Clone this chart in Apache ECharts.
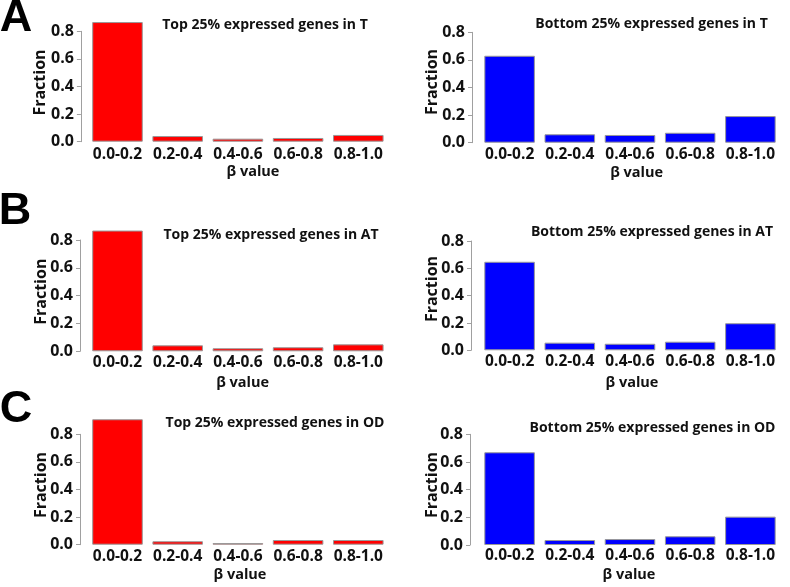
<!DOCTYPE html>
<html><head><meta charset="utf-8">
<script src="https://cdn.jsdelivr.net/npm/echarts@6/dist/echarts.min.js"></script>
<style>html,body{margin:0;padding:0;background:#fff}#c{width:790px;height:587px}</style>
</head><body><div id="c"></div>
<script>
// ---- data ----
const categories = ['0.0-0.2', '0.2-0.4', '0.4-0.6', '0.6-0.8', '0.8-1.0'];
const yTicks = [0.0, 0.2, 0.4, 0.6, 0.8];
const topT  = [0.867, 0.041, 0.022, 0.027, 0.049];
const botT  = [0.630, 0.061, 0.056, 0.072, 0.193];
const topAT = [0.868, 0.043, 0.022, 0.029, 0.050];
const botAT = [0.648, 0.056, 0.048, 0.063, 0.198];
const topOD = [0.909, 0.025, 0.012, 0.034, 0.034];
const botOD = [0.670, 0.036, 0.043, 0.063, 0.205];
const titles = [
  'Top 25% expressed genes in T', 'Bottom 25% expressed genes in T',
  'Top 25% expressed genes in AT', 'Bottom 25% expressed genes in AT',
  'Top 25% expressed genes in OD', 'Bottom 25% expressed genes in OD'
];
const letters = ['A', 'B', 'C'];
const xName = 'β value';
const yName = 'Fraction';

// ---- layout ----
const RED = '#ff0000', BLUE = '#0000ff';
const FONT = '"Open Sans", Lato, "Liberation Sans", sans-serif';
const panels = [
  {data: topT,  color: RED,  grid: {left: 87.4,  top: 31.3,  width: 301, height: 110.4}, off: 6.5, lm: 5, t: [265, 25],   f: [40, 82.5],  b: [253, 172]},
  {data: botT,  color: BLUE, grid: {left: 479.5, top: 32.3,  width: 301, height: 110.4}, off: 7.5, lm: 4, t: [651.5, 24], f: [432, 82],   b: [636.7, 173]},
  {data: topAT, color: RED,  grid: {left: 87.4,  top: 240,   width: 301, height: 111.3}, off: 7.4, lm: 3, t: [271, 235],  f: [41.7, 291.7], b: [242.6, 383]},
  {data: botAT, color: BLUE, grid: {left: 479.5, top: 241,   width: 301, height: 109.3}, off: 8.5, lm: 3.5, t: [652, 232], f: [432, 289],  b: [632, 383]},
  {data: topOD, color: RED,  grid: {left: 87.4,  top: 434.3, width: 301, height: 110.4}, off: 7.4, lm: 4, t: [275, 423],  f: [41.7, 485], b: [240, 575]},
  {data: botOD, color: BLUE, grid: {left: 479.5, top: 434.3, width: 301, height: 110.7}, off: 9.5, lm: 3, t: [652.5, 427.7], f: [432, 485], b: [629, 575]}
];
const letterPos = [[16, 19], [15, 212], [16, 410]];

const grids = [], xAxes = [], yAxes = [], series = [], graphics = [];
panels.forEach((p, i) => {
  grids.push(Object.assign({containLabel: false}, p.grid));
  xAxes.push({
    type: 'category', gridIndex: i, data: categories,
    axisLine: {show: false}, axisTick: {show: false},
    axisLabel: {interval: 0, margin: p.lm, color: '#111', fontFamily: FONT, fontWeight: 'bold', fontSize: 15.5}
  });
  yAxes.push({
    type: 'value', gridIndex: i, min: yTicks[0], max: yTicks[yTicks.length - 1], interval: 0.2,
    offset: p.off,
    axisLine: {show: true, lineStyle: {color: '#a0a0a0', width: 1}},
    axisTick: {show: true, length: 4, lineStyle: {color: '#a0a0a0', width: 1}},
    splitLine: {show: false},
    axisLabel: {margin: 7, color: '#111', fontFamily: FONT, fontWeight: 'bold', fontSize: 16,
      formatter: v => v.toFixed(1)}
  });
  series.push({
    type: 'bar', xAxisIndex: i, yAxisIndex: i, data: p.data, clip: false,
    barCategoryGap: '16%', silent: true,
    itemStyle: {color: p.color, borderColor: '#999999', borderWidth: 1}
  });
  graphics.push({type: 'text', x: p.t[0], y: p.t[1], silent: true,
    style: {text: titles[i], fill: '#111', font: 'bold 14px ' + FONT, align: 'center', verticalAlign: 'middle'}});
  graphics.push({type: 'text', x: p.f[0], y: p.f[1], rotation: Math.PI / 2, silent: true,
    style: {text: yName, fill: '#111', font: 'bold 16px ' + FONT, align: 'center', verticalAlign: 'middle'}});
  graphics.push({type: 'text', x: p.b[0], y: p.b[1], silent: true,
    style: {text: xName, fill: '#111', font: 'bold 14.5px ' + FONT, align: 'center', verticalAlign: 'middle'}});
});
letters.forEach((L, k) => {
  graphics.push({type: 'text', x: letterPos[k][0], y: letterPos[k][1], silent: true,
    style: {text: L, fill: '#000', font: 'bold 45px "Liberation Sans", Arial, sans-serif', align: 'center', verticalAlign: 'middle'}});
});

const chart = echarts.init(document.getElementById('c'), null, {renderer: 'canvas'});
chart.setOption({
  animation: false,
  backgroundColor: '#ffffff',
  grid: grids, xAxis: xAxes, yAxis: yAxes, series: series, graphic: graphics
});
</script>
</body></html>
